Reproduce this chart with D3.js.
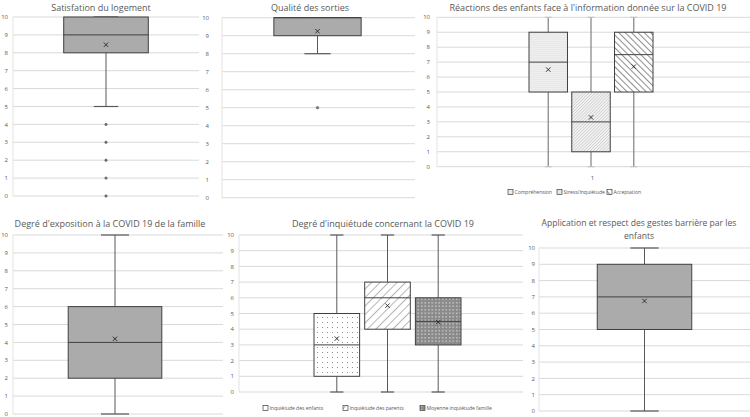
<!DOCTYPE html>
<html>
<head>
<meta charset="utf-8">
<script src="https://cdn.jsdelivr.net/npm/d3@7"></script>
<style>
  body { margin: 0; background: #fff; }
  svg text { font-family: "Open Sans", "Liberation Sans", sans-serif; fill: #595959; }
</style>
</head>
<body>
<svg id="chart" width="750" height="417"></svg>
<script>
// ---- data ----
const scaleTicks = [0, 1, 2, 3, 4, 5, 6, 7, 8, 9, 10]
// each stats row: [min, q1, median, q3, max, mean]
const logementSeries = ['Satisfation du logement']
const logementStats = [[5, 8, 9, 10, 10, 8.45]]
const logementOutliers = [[4, 3, 2, 1, 0]]

const sortiesSeries = ['Qualité des sorties']
const sortiesStats = [[8, 9, 10, 10, 10, 9.25]]
const sortiesOutliers = [[5]]

const reactionSeries = ['Compréhension', 'Stress/Inquiétude', 'Acceptation']
const reactionStats = [
    [0, 5, 7, 9, 10, 6.5],
    [0, 1, 3, 5, 10, 3.3],
    [0, 5, 7.5, 9, 10, 6.7]
]
const reactionCategory = ['1']

const expositionSeries = ['Exposition']
const expositionStats = [[0, 2, 4, 6, 10, 4.2]]

const inquietudeSeries = ['Inquiétude des enfants', 'Inquiétude des parents', 'Moyenne inquiétude famille']
const inquietudeStats = [
    [0, 1, 3, 5, 10, 3.4],
    [0, 4, 6, 7, 10, 5.5],
    [0, 3, 4.5, 6, 10, 4.45]
]

const gestesSeries = ['Gestes barrière']
const gestesStats = [[0, 5, 7, 9, 10, 6.75]]

const titles = [
    ['Satisfation du logement'],
    ['Qualité des sorties'],
    ["Réactions des enfants face à l'information donnée sur la COVID 19"],
    ["Degré d'exposition à la COVID 19 de la famille"],
    ["Degré d'inquiétude concernant la COVID 19"],
    ['Application et respect des gestes barrière par les', 'enfants']
]

const svg = d3.select('#chart')
const defs = svg.append('defs')

// ---- fill patterns ----
function dotPattern(id, size, r, bg, dot) {
    const pat = defs.append('pattern')
        .attr('id', id).attr('width', size).attr('height', size)
        .attr('patternUnits', 'userSpaceOnUse')
    pat.append('rect').attr('width', size).attr('height', size).attr('fill', bg)
    pat.append('circle').attr('cx', size / 2).attr('cy', size / 2).attr('r', r).attr('fill', dot)
}
function linePattern(id, size, angle, bg, color, width) {
    const pat = defs.append('pattern')
        .attr('id', id).attr('width', size).attr('height', size)
        .attr('patternUnits', 'userSpaceOnUse')
        .attr('patternTransform', `rotate(${angle})`)
    pat.append('rect').attr('width', size).attr('height', size).attr('fill', bg)
    pat.append('line').attr('x1', 0).attr('y1', 0).attr('x2', 0).attr('y2', size)
        .attr('stroke', color).attr('stroke-width', width)
}
dotPattern('p-compr', 2, 0.5, '#fbfbfb', '#a9a9a9')
linePattern('p-stress', 2.2, 45, '#f2f2f2', '#b0b0b0', 0.8)
linePattern('p-accept', 4.5, -45, '#fff', '#8c8c8c', 2)
dotPattern('p-enfants', 5, 0.55, '#fff', '#7a7a7a')
linePattern('p-parents', 6, 45, '#fff', '#5a5a5a', 0.9)
dotPattern('p-moyenne', 3.5, 0.85, '#8a8a8a', '#c8c8c8')

const solidFill = ['#ababab']

const panels = [
    {title: titles[0], series: logementSeries, stats: logementStats, outliers: logementOutliers,
     fills: solidFill, x0: 13, x1: 199, yTop: 17, yBot: 196, band: [59, 153], labelX: 8, titleX: 101, titleY: 11, cap: 0.29},
    {title: titles[1], series: sortiesSeries, stats: sortiesStats, outliers: sortiesOutliers,
     fills: solidFill, x0: 222, x1: 415, yTop: 17.7, yBot: 197.7, band: [269, 366], labelX: 209, titleX: 310, titleY: 11, cap: 0.3},
    {title: titles[2], series: reactionSeries, stats: reactionStats,
     fills: ['url(#p-compr)', 'url(#p-stress)', 'url(#p-accept)'], whisker: '#8a8a8a', whiskerW: 1.3,
     x0: 437, x1: 750, yTop: 17.3, yBot: 166.7, band: [529, 653], labelX: 430, titleX: 588, titleY: 11, cap: 0.18,
     category: reactionCategory, legendX: 508, legendY: 192, legendGap: [0, 49, 99]},
    {title: titles[3], series: expositionSeries, stats: expositionStats,
     fills: solidFill, x0: 13, x1: 223, yTop: 235, yBot: 414, band: [63, 167], labelX: 8, titleX: 110, titleY: 227, cap: 0.3},
    {title: titles[4], series: inquietudeSeries, stats: inquietudeStats,
     fills: ['url(#p-enfants)', 'url(#p-parents)', 'url(#p-moyenne)'],
     x0: 239, x1: 523, yTop: 235, yBot: 392, band: [314, 461], labelX: 234, titleX: 383, titleY: 227, cap: 0.29,
     legendX: 263, legendY: 408, legendGap: [0, 80, 157]},
    {title: titles[5], series: gestesSeries, stats: gestesStats,
     fills: solidFill, x0: 539, x1: 750, yTop: 248, yBot: 411, band: [592, 697], labelX: 535, titleX: 639, titleY: 226, cap: 0.3,
     titleSize: 8.6, lineGap: 12.6}
]

panels.forEach(drawPanel)

function drawPanel(p) {
    const g = svg.append('g')
    const y = d3.scaleLinear().domain([0, 10]).range([p.yBot, p.yTop])
    const x = d3.scaleBand().domain(p.series).range(p.band).paddingInner(0.1)

    // gridlines
    g.append('g').selectAll('line')
        .data(scaleTicks)
        .join('line')
        .attr('x1', p.x0).attr('x2', p.x1)
        .attr('y1', d => y(d)).attr('y2', d => y(d))
        .attr('stroke', '#d9d9d9').attr('stroke-width', 1)
    g.append('line')
        .attr('x1', p.x0).attr('x2', p.x0)
        .attr('y1', y(10)).attr('y2', y(0))
        .attr('stroke', '#e3e3e3')

    // y labels
    g.append('g').selectAll('text')
        .data(scaleTicks)
        .join('text')
        .attr('x', p.labelX).attr('y', d => y(d))
        .attr('dy', '0.35em')
        .attr('text-anchor', 'end')
        .style('font-size', '6px')
        .text(d => d)

    // title
    g.append('g').selectAll('text')
        .data(p.title)
        .join('text')
        .attr('x', p.titleX).attr('y', (d, i) => p.titleY + i * (p.lineGap || 11))
        .attr('text-anchor', 'middle')
        .style('font-size', (p.titleSize || 9) + 'px')
        .text(d => d)

    if (p.category) {
        g.append('text')
            .attr('x', (p.x0 + p.x1) / 2 - 1).attr('y', p.yBot + 13)
            .attr('text-anchor', 'middle')
            .style('font-size', '6px')
            .text(p.category[0])
    }

    const whiskerColor = p.whisker || '#595959'
    const whiskerW = p.whiskerW || 1

    p.series.forEach((name, i) => {
        const [mn, q1, med, q3, mx, mean] = p.stats[i]
        const bx = x(name), bw = x.bandwidth(), cx = bx + bw / 2
        const capW = bw * p.cap
        const bg = g.append('g')

        // whiskers
        bg.append('line').attr('x1', cx).attr('x2', cx).attr('y1', y(q3)).attr('y2', y(mx))
            .attr('stroke', whiskerColor).attr('stroke-width', whiskerW)
        bg.append('line').attr('x1', cx).attr('x2', cx).attr('y1', y(q1)).attr('y2', y(mn))
            .attr('stroke', whiskerColor).attr('stroke-width', whiskerW)
        ;[mn, mx].forEach(v => {
            bg.append('line').attr('x1', cx - capW / 2).attr('x2', cx + capW / 2)
                .attr('y1', y(v)).attr('y2', y(v))
                .attr('stroke', p.whisker ? '#c4c4c4' : '#595959').attr('stroke-width', 1.2)
        })

        // box
        bg.append('rect')
            .attr('x', bx).attr('y', y(q3))
            .attr('width', bw).attr('height', y(q1) - y(q3))
            .attr('fill', p.fills[i])
            .attr('stroke', '#404040').attr('stroke-width', 1)
        bg.append('line').attr('x1', bx).attr('x2', bx + bw).attr('y1', y(med)).attr('y2', y(med))
            .attr('stroke', '#404040').attr('stroke-width', 1)

        // mean marker
        const m = 2.2
        bg.append('path')
            .attr('d', `M${cx - m},${y(mean) - m}L${cx + m},${y(mean) + m}M${cx - m},${y(mean) + m}L${cx + m},${y(mean) - m}`)
            .attr('stroke', '#262626').attr('stroke-width', 0.9)

        // outliers
        if (p.outliers) {
            bg.selectAll('circle')
                .data(p.outliers[i])
                .join('circle')
                .attr('cx', cx).attr('cy', d => y(d)).attr('r', 1.2)
                .attr('fill', '#7f7f7f').attr('stroke', '#404040').attr('stroke-width', 0.5)
        }
    })

    // legend
    if (p.legendX !== undefined) {
        const lg = g.append('g').attr('transform', `translate(${p.legendX}, ${p.legendY})`)
        p.series.forEach((name, i) => {
            const it = lg.append('g').attr('transform', `translate(${p.legendGap[i]}, 0)`)
            it.append('rect').attr('x', 0).attr('y', -2.5).attr('width', 5).attr('height', 5)
                .attr('fill', p.fills[i]).attr('stroke', '#404040').attr('stroke-width', 0.7)
            it.append('text').attr('x', 6.5).attr('y', 0).attr('dy', '0.35em')
                .style('font-size', '5.1px').style('letter-spacing', '-0.05px').text(name)
        })
    }
}
</script>
</body>
</html>
